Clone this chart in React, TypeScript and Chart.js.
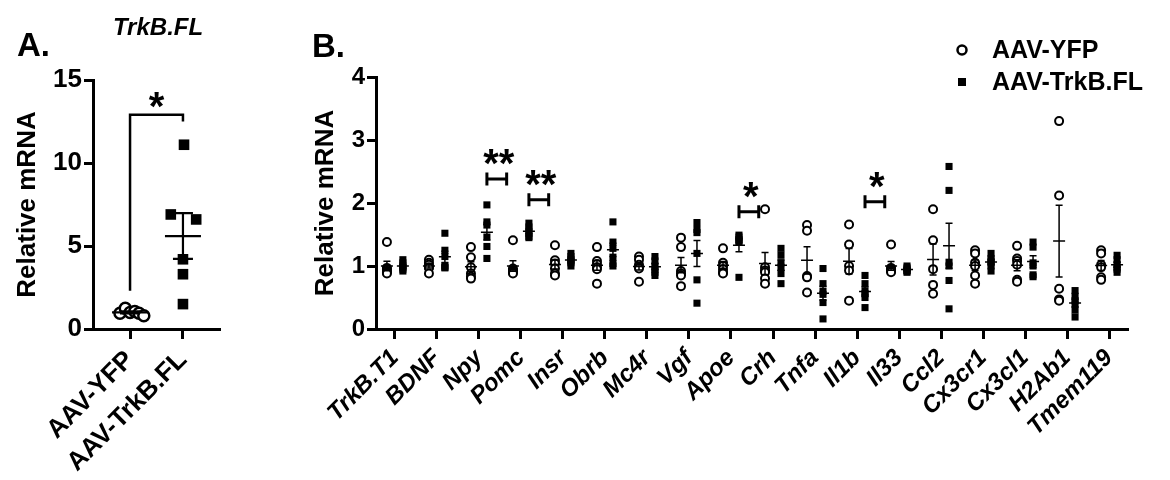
import React, { useEffect, useRef } from 'react';
import { Chart, registerables } from 'chart.js';

Chart.register(...registerables);
Chart.defaults.color = '#000';

const FONT = "Arial, 'Liberation Sans', Helvetica, sans-serif";

// ---------- Panel A data ----------
const groupsA = ['AAV-YFP', 'AAV-TrkB.FL'];
const yfpA = [0.95, 1.25, 1.0, 1.05, 0.95, 0.8];
const trkbA = [11.1, 6.9, 6.6, 4.2, 3.3, 1.5];
const yfpAJitter = [-0.19, -0.09, 0, 0.09, 0.17, 0.26];
const trkbAJitter = [0.02, -0.23, 0.25, 0, 0, 0];
const yTicksA = [0, 5, 10, 15];
const titleA = 'TrkB.FL';
const sigA = '*';
const sigABracket = [2.3, 12.9, 12.5]; // left leg start, top, right leg end

// ---------- Panel B data ----------
const genes = ['TrkB.T1', 'BDNF', 'Npy', 'Pomc', 'Insr', 'Obrb', 'Mc4r', 'Vgf', 'Apoe', 'Crh', 'Tnfa', 'Il1b', 'Il33', 'Ccl2', 'Cx3cr1', 'Cx3cl1', 'H2Ab1', 'Tmem119'];
const yfpB: number[][] = [
  [1.38, 0.97, 0.95, 0.92, 0.9, 0.88],
  [1.1, 1.05, 1.02, 0.98, 0.97, 0.88],
  [1.3, 1.14, 0.98, 0.88, 0.83, 0.8],
  [1.41, 0.96, 0.93, 0.92, 0.9, 0.88],
  [1.33, 1.09, 1.04, 0.96, 0.88, 0.85],
  [1.3, 1.08, 1.03, 0.98, 0.95, 0.72],
  [1.15, 1.1, 1.02, 0.98, 0.96, 0.75],
  [1.45, 1.3, 0.92, 0.88, 0.85, 0.68],
  [1.28, 1.05, 1.0, 0.95, 0.9, 0.88],
  [1.9, 0.98, 0.93, 0.9, 0.8, 0.72],
  [1.65, 1.56, 0.84, 0.82, 0.58],
  [1.66, 1.34, 1.0, 0.93, 0.45],
  [1.34, 0.97, 0.95, 0.93, 0.92, 0.9],
  [1.9, 1.41, 0.95, 0.7, 0.56],
  [1.25, 1.2, 1.05, 1.0, 0.85, 0.72],
  [1.32, 1.12, 1.08, 1.02, 0.78, 0.75],
  [3.3, 2.12, 0.64, 0.47, 0.45],
  [1.25, 1.2, 1.02, 0.98, 0.82, 0.78],
];
const trkbB: number[][] = [
  [1.1, 1.05, 1.0, 0.98, 0.95, 0.92],
  [1.52, 1.25, 1.15, 1.0, 0.98, 0.97],
  [1.97, 1.7, 1.65, 1.46, 1.31, 1.12],
  [1.68, 1.62, 1.57, 1.52, 1.47, 1.45],
  [1.2, 1.15, 1.1, 1.08, 1.05, 1.0],
  [1.7, 1.38, 1.28, 1.14, 1.04, 1.0],
  [1.15, 1.08, 1.0, 0.95, 0.9, 0.85],
  [1.69, 1.58, 1.53, 1.2, 0.78, 0.41],
  [1.49, 1.46, 1.42, 1.4, 1.38, 0.82],
  [1.28, 1.17, 1.05, 0.98, 0.88, 0.72],
  [0.96, 0.72, 0.6, 0.55, 0.42, 0.16],
  [0.85, 0.72, 0.6, 0.56, 0.5, 0.34],
  [1.0, 0.97, 0.95, 0.93, 0.92, 0.9],
  [2.58, 2.2, 1.06, 1.0, 0.77, 0.32],
  [1.2, 1.12, 1.08, 1.05, 1.0, 0.92],
  [1.38, 1.3, 1.05, 1.0, 0.86, 0.83],
  [0.61, 0.52, 0.45, 0.4, 0.3, 0.19],
  [1.17, 1.1, 1.02, 0.98, 0.95, 0.9],
];
const sigGenes = ['Npy', 'Pomc', 'Apoe', 'Il1b'];
const sigLabels = ['**', '**', '*', '*'];
const sigY = [2.38, 2.05, 1.86, 2.02];
const yTicksB = [0, 1, 2, 3, 4];
const seriesNames = ['AAV-YFP', 'AAV-TrkB.FL'];

// ---------- helpers ----------
const mean = (a: number[]) => a.reduce((s, v) => s + v, 0) / a.length;
const sem = (a: number[]) => {
  const m = mean(a);
  const v = a.reduce((s, x) => s + (x - m) * (x - m), 0) / (a.length - 1);
  return Math.sqrt(v) / Math.sqrt(a.length);
};

function drawMeanSem(ctx: CanvasRenderingContext2D, xs: any, ys: any, xVal: number, values: number[], halfMean: number, halfCap: number, lw: number) {
  const m = mean(values);
  const e = sem(values);
  const x = xs.getPixelForValue(xVal);
  const ym = ys.getPixelForValue(m);
  const yt = ys.getPixelForValue(m + e);
  const yb = ys.getPixelForValue(m - e);
  ctx.save();
  ctx.strokeStyle = '#000';
  ctx.lineWidth = lw;
  ctx.beginPath();
  ctx.moveTo(x - halfMean, ym); ctx.lineTo(x + halfMean, ym);
  ctx.moveTo(x, yt); ctx.lineTo(x, yb);
  ctx.moveTo(x - halfCap, yt); ctx.lineTo(x + halfCap, yt);
  ctx.moveTo(x - halfCap, yb); ctx.lineTo(x + halfCap, yb);
  ctx.stroke();
  ctx.restore();
}

function drawStar(ctx: CanvasRenderingContext2D, text: string, cx: number, cy: number, size: number) {
  ctx.save();
  ctx.fillStyle = '#000';
  ctx.font = `bold ${size}px ${FONT}`;
  ctx.textAlign = 'center';
  ctx.textBaseline = 'alphabetic';
  ctx.fillText(text, cx, cy + size * 0.56);
  ctx.restore();
}

const OFF_B = 0.19;

const panelAPlugin = {
  id: 'panelA',
  afterDatasetsDraw(chart: any) {
    const ctx = chart.ctx as CanvasRenderingContext2D;
    const xs = chart.scales.x;
    const ys = chart.scales.y;
    drawMeanSem(ctx, xs, ys, 1, yfpA, 18, 10, 2.2);
    drawMeanSem(ctx, xs, ys, 2, trkbA, 18, 10, 2.2);
    const x1 = xs.getPixelForValue(1);
    const x2 = xs.getPixelForValue(2);
    ctx.save();
    ctx.strokeStyle = '#000';
    ctx.lineWidth = 2.5;
    ctx.beginPath();
    ctx.moveTo(x1, ys.getPixelForValue(sigABracket[0]));
    ctx.lineTo(x1, ys.getPixelForValue(sigABracket[1]));
    ctx.lineTo(x2, ys.getPixelForValue(sigABracket[1]));
    ctx.lineTo(x2, ys.getPixelForValue(sigABracket[2]));
    ctx.stroke();
    ctx.restore();
    drawStar(ctx, sigA, (x1 + x2) / 2, ys.getPixelForValue(sigABracket[1]) - 17, 40);
  },
  afterDraw(chart: any) {
    const ctx = chart.ctx as CanvasRenderingContext2D;
    ctx.save();
    ctx.fillStyle = '#000';
    ctx.textBaseline = 'alphabetic';
    ctx.font = `bold 33px ${FONT}`;
    ctx.textAlign = 'left';
    ctx.fillText('A.', 17, 56);
    ctx.font = `italic bold 24px ${FONT}`;
    ctx.textAlign = 'center';
    ctx.fillText(titleA, 158, 35);
    ctx.restore();
  },
};

const panelBPlugin = {
  id: 'panelB',
  afterDatasetsDraw(chart: any) {
    const ctx = chart.ctx as CanvasRenderingContext2D;
    const xs = chart.scales.x;
    const ys = chart.scales.y;
    genes.forEach((g, i) => {
      drawMeanSem(ctx, xs, ys, i - OFF_B, yfpB[i], 6, 3.5, 1.5);
      drawMeanSem(ctx, xs, ys, i + OFF_B, trkbB[i], 6, 3.5, 1.5);
    });
    sigGenes.forEach((g, k) => {
      const i = genes.indexOf(g);
      const xa = xs.getPixelForValue(i + OFF_B);
      const xb = xs.getPixelForValue(i + 0.66);
      const y = ys.getPixelForValue(sigY[k]);
      ctx.save();
      ctx.strokeStyle = '#000';
      ctx.lineWidth = 3;
      ctx.beginPath();
      ctx.moveTo(xa, y); ctx.lineTo(xb, y);
      ctx.moveTo(xa, y - 6.5); ctx.lineTo(xa, y + 6.5);
      ctx.moveTo(xb, y - 6.5); ctx.lineTo(xb, y + 6.5);
      ctx.stroke();
      ctx.restore();
      drawStar(ctx, sigLabels[k], (xa + xb) / 2 + 2, y - 24, 40);
    });
  },
  afterDraw(chart: any) {
    const ctx = chart.ctx as CanvasRenderingContext2D;
    ctx.save();
    ctx.fillStyle = '#000';
    ctx.textBaseline = 'alphabetic';
    ctx.font = `bold 33px ${FONT}`;
    ctx.textAlign = 'left';
    ctx.fillText('B.', 72, 57);
    const lx = 722;
    const rows = [50, 82];
    ctx.strokeStyle = '#000';
    ctx.lineWidth = 2.5;
    ctx.beginPath();
    ctx.arc(lx, rows[0], 4.5, 0, Math.PI * 2);
    ctx.fillStyle = '#fff';
    ctx.fill();
    ctx.stroke();
    ctx.fillStyle = '#000';
    ctx.fillRect(lx - 4, rows[1] - 4, 8, 8);
    ctx.font = `bold 25px ${FONT}`;
    ctx.textBaseline = 'middle';
    ctx.fillText(seriesNames[0], 752, rows[0] + 1);
    ctx.fillText(seriesNames[1], 752, rows[1] + 1);
    ctx.restore();
  },
};

function axisCommon(tickLen: number) {
  return {
    grid: { drawOnChartArea: false, drawTicks: true, tickLength: tickLen, tickWidth: 3, tickColor: '#000' },
    border: { display: true, width: 3, color: '#000' },
  };
}

export default function App() {
  const refA = useRef<HTMLCanvasElement>(null);
  const refB = useRef<HTMLCanvasElement>(null);

  useEffect(() => {
    const chartA = new Chart(refA.current as HTMLCanvasElement, {
      type: 'scatter',
      data: {
        datasets: [
          {
            label: seriesNames[0],
            data: yfpA.map((v, k) => ({ x: 1 + yfpAJitter[k], y: v })),
            pointStyle: 'circle',
            pointRadius: 5.5,
            borderWidth: 2.5,
            borderColor: '#000',
            backgroundColor: '#fff',
          },
          {
            label: seriesNames[1],
            data: trkbA.map((v, k) => ({ x: 2 + trkbAJitter[k], y: v })),
            pointStyle: 'rect',
            pointRadius: 7.5,
            borderWidth: 0,
            borderColor: '#000',
            backgroundColor: '#000',
          },
        ],
      },
      options: {
        animation: false,
        responsive: false,
        events: [],
        layout: { padding: { top: 80, right: 20, left: 0, bottom: 0 } },
        plugins: { legend: { display: false }, tooltip: { enabled: false } },
        scales: {
          x: {
            type: 'linear',
            min: 0.3,
            max: 2.7,
            afterBuildTicks: (s: any) => { s.ticks = [{ value: 1 }, { value: 2 }]; },
            afterFit: (s: any) => { s.height = 151; },
            ticks: {
              autoSkip: false,
              minRotation: 45,
              maxRotation: 45,
              padding: 6,
              color: '#000',
              font: { family: FONT, size: 26, weight: 'bold' },
              callback: (v: any) => groupsA[Number(v) - 1] ?? '',
            },
            ...axisCommon(10),
          },
          y: {
            min: 0,
            max: 15,
            afterBuildTicks: (s: any) => { s.ticks = yTicksA.map((v) => ({ value: v })); },
            afterFit: (s: any) => { s.width = 93; },
            ticks: { padding: 2, color: '#000', font: { family: FONT, size: 26, weight: 'bold' } },
            title: {
              display: true,
              text: 'Relative mRNA',
              color: '#000',
              font: { family: FONT, size: 26, weight: 'bold' },
              padding: { top: 12, bottom: 0 },
            },
            ...axisCommon(9),
          },
        },
      } as any,
      plugins: [panelAPlugin as any],
    });

    const datasetsB = [
      {
        label: seriesNames[0],
        data: genes.flatMap((g, i) => yfpB[i].map((v) => ({ x: i - OFF_B, y: v }))),
        pointStyle: 'circle',
        pointRadius: 4,
        borderWidth: 2,
        borderColor: '#000',
        backgroundColor: '#fff',
      },
      {
        label: seriesNames[1],
        data: genes.flatMap((g, i) => trkbB[i].map((v) => ({ x: i + OFF_B, y: v }))),
        pointStyle: 'rect',
        pointRadius: 5,
        borderWidth: 0,
        borderColor: '#000',
        backgroundColor: '#000',
      },
    ];

    const chartB = new Chart(refB.current as HTMLCanvasElement, {
      type: 'scatter',
      data: { datasets: datasetsB as any },
      options: {
        animation: false,
        responsive: false,
        events: [],
        layout: { padding: { top: 77, right: 42, left: 0, bottom: 0 } },
        plugins: { legend: { display: false }, tooltip: { enabled: false } },
        scales: {
          x: {
            type: 'linear',
            min: -0.45,
            max: 17.45,
            afterBuildTicks: (s: any) => { s.ticks = genes.map((g, i) => ({ value: i })); },
            afterFit: (s: any) => { s.height = 151; },
            ticks: {
              autoSkip: false,
              minRotation: 45,
              maxRotation: 45,
              padding: 5,
              color: '#000',
              font: { family: FONT, size: 24, weight: 'bold', style: 'italic' },
              callback: (v: any) => genes[Number(v)] ?? '',
            },
            ...axisCommon(10),
          },
          y: {
            min: 0,
            max: 4,
            afterBuildTicks: (s: any) => { s.ticks = yTicksB.map((v) => ({ value: v })); },
            afterFit: (s: any) => { s.width = 136; },
            ticks: { padding: 2, color: '#000', font: { family: FONT, size: 24, weight: 'bold' } },
            title: {
              display: true,
              text: 'Relative mRNA',
              color: '#000',
              font: { family: FONT, size: 26, weight: 'bold' },
              padding: { top: 70, bottom: 0 },
            },
            ...axisCommon(9),
          },
        },
      } as any,
      plugins: [panelBPlugin as any],
    });

    return () => {
      chartA.destroy();
      chartB.destroy();
    };
  }, []);

  return (
    <div style={{ position: 'fixed', left: 0, top: 0, width: 1170, height: 480, background: '#fff' }}>
      <canvas ref={refA} width={240} height={480} style={{ position: 'absolute', left: 0, top: 0, width: 240, height: 480 }} />
      <canvas ref={refB} width={930} height={480} style={{ position: 'absolute', left: 240, top: 0, width: 930, height: 480 }} />
    </div>
  );
}
